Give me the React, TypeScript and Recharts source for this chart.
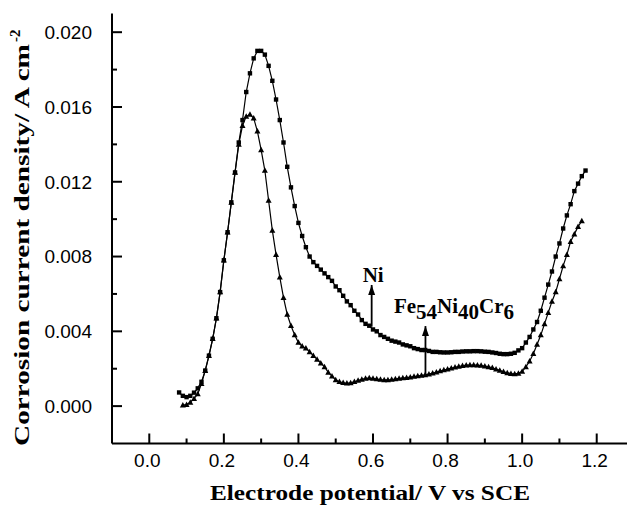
import React from 'react';
import { LineChart, Line, XAxis, YAxis, ReferenceLine, ReferenceDot } from 'recharts';

// Electrode potential (V vs SCE)
const potentials = [
  0.08, 0.09, 0.10, 0.11, 0.12, 0.13, 0.14, 0.15, 0.16, 0.17,
  0.18, 0.19, 0.20, 0.21, 0.22, 0.23, 0.24, 0.25, 0.26, 0.27,
  0.28, 0.29, 0.30, 0.31, 0.32, 0.33, 0.34, 0.35, 0.36, 0.37,
  0.38, 0.39, 0.40, 0.41, 0.42, 0.43, 0.44, 0.45, 0.46, 0.47,
  0.48, 0.49, 0.50, 0.51, 0.52, 0.53, 0.54, 0.55, 0.56, 0.57,
  0.58, 0.59, 0.60, 0.61, 0.62, 0.63, 0.64, 0.65, 0.66, 0.67,
  0.68, 0.69, 0.70, 0.71, 0.72, 0.73, 0.74, 0.75, 0.76, 0.77,
  0.78, 0.79, 0.80, 0.81, 0.82, 0.83, 0.84, 0.85, 0.86, 0.87,
  0.88, 0.89, 0.90, 0.91, 0.92, 0.93, 0.94, 0.95, 0.96, 0.97,
  0.98, 0.99, 1.00, 1.01, 1.02, 1.03, 1.04, 1.05, 1.06, 1.07,
  1.08, 1.09, 1.10, 1.11, 1.12, 1.13, 1.14, 1.15, 1.16, 1.17,
];

// Ni corrosion current density (A cm-2)
const niCurrent = [
  0.00073, 0.00055, 0.00048, 0.00055, 0.00072, 0.00095, 0.0013, 0.0019, 0.0027, 0.0036,
  0.0047, 0.0061, 0.0078, 0.0093, 0.0109, 0.0125, 0.0141, 0.0153, 0.0168, 0.0178,
  0.0186, 0.0190, 0.0190, 0.0188, 0.0182, 0.0174, 0.0164, 0.0153, 0.0141, 0.0128,
  0.0117, 0.0107, 0.0098, 0.0091, 0.0085, 0.0080, 0.0077, 0.0075, 0.0073, 0.0071,
  0.0069, 0.0067, 0.0064, 0.0062, 0.0059, 0.0056, 0.0054, 0.0051, 0.0049, 0.0046,
  0.0044, 0.0043, 0.0041, 0.0040, 0.0038, 0.0037, 0.0036, 0.0035, 0.00345, 0.0034,
  0.0033, 0.00325, 0.0032, 0.0031, 0.00305, 0.0030, 0.0030, 0.00295, 0.0029, 0.0029,
  0.00288, 0.00287, 0.00287, 0.00288, 0.0029, 0.0029, 0.00292, 0.00293, 0.00293, 0.00294,
  0.00294, 0.00293, 0.00291, 0.0029, 0.00287, 0.00284, 0.0028, 0.00278, 0.00278, 0.0028,
  0.00285, 0.00298, 0.0031, 0.0034, 0.0037, 0.0041, 0.0045, 0.0051, 0.0058, 0.0065,
  0.0072, 0.0080, 0.0087, 0.0095, 0.0102, 0.0108, 0.0115, 0.0119, 0.0123, 0.0126,
];

// Fe54Ni40Cr6 corrosion current density (A cm-2)
const feCurrent = [
  null, 0.00005, 0.00008, 0.0002, 0.0004, 0.00065, 0.0012, 0.0019, 0.0027, 0.0036,
  0.0047, 0.0061, 0.0078, 0.0093, 0.0109, 0.0125, 0.0140, 0.0150, 0.0155, 0.0156,
  0.0154, 0.0147, 0.0137, 0.0126, 0.0110, 0.0094, 0.0081, 0.0069, 0.0058, 0.0049,
  0.0043, 0.0038, 0.0034, 0.0032, 0.0031, 0.0029, 0.0027, 0.0025, 0.0023, 0.0021,
  0.0018, 0.0016, 0.0014, 0.0013, 0.00125, 0.00122, 0.00124, 0.0013, 0.00137, 0.00143,
  0.00148, 0.0015, 0.00148, 0.00145, 0.00142, 0.0014, 0.0014, 0.00142, 0.00145, 0.00148,
  0.0015, 0.00152, 0.00155, 0.00158, 0.00161, 0.00164, 0.00167, 0.00171, 0.00176, 0.00182,
  0.00188, 0.00193, 0.00198, 0.00203, 0.00208, 0.00212, 0.00216, 0.00219, 0.0022, 0.0022,
  0.00219, 0.00217, 0.00214, 0.0021, 0.00205, 0.00198, 0.00191, 0.00184, 0.00178, 0.00174,
  0.00172, 0.00175, 0.00185, 0.0021, 0.0024, 0.0028, 0.0033, 0.0038, 0.0044, 0.0050,
  0.0056, 0.0061, 0.0068, 0.0075, 0.0081, 0.0088, 0.0092, 0.0096, 0.0099, null,
];

const xMajorTicks = [0, 0.2, 0.4, 0.6, 0.8, 1.0, 1.2];
const xMinorTicks = [0.1, 0.3, 0.5, 0.7, 0.9, 1.1];
const yMajorTicks = [0, 0.004, 0.008, 0.012, 0.016, 0.02];
const yMinorTicks = [0.002, 0.006, 0.01, 0.014, 0.018];

const xTitle = 'Electrode potential/ V vs SCE';
const yTitle = 'Corrosion current density/ A cm';
const yTitleSup = '-2';

// annotation anchors (data coordinates)
const niArrow = { x: 0.5964, from: 0.00425, to: 0.00648 };
const feArrow = { x: 0.7407, from: 0.00157, to: 0.00428 };

const table = potentials.map((v, k) => ({ v, ni: niCurrent[k], fe: feCurrent[k] }));

const TICK_FONT = 'Liberation Sans, Arial, Helvetica, sans-serif';
const TITLE_FONT = 'Liberation Serif, Times New Roman, Times, DejaVu Serif, serif';

const XTick = (props: any) => {
  const { x, y, payload } = props;
  const major = xMajorTicks.includes(payload.value);
  return (
    <g>
      <line x1={x} x2={x} y1={y} y2={y - (major ? 10 : 5)} stroke="#000" strokeWidth={2} />
      {major && (
        <text x={x - 2} y={y + 23} textAnchor="middle" fontFamily={TICK_FONT} fontSize={19} fill="#000">
          {payload.value.toFixed(1)}
        </text>
      )}
    </g>
  );
};

const YTick = (props: any) => {
  const { x, y, payload } = props;
  const major = yMajorTicks.includes(payload.value);
  return (
    <g>
      <line x1={x} x2={x + (major ? 10 : 5)} y1={y} y2={y} stroke="#000" strokeWidth={2} />
      {major && (
        <text x={x - 20} y={y} dy="0.36em" textAnchor="end" fontFamily={TICK_FONT} fontSize={19} fill="#000">
          {payload.value.toFixed(3)}
        </text>
      )}
    </g>
  );
};

const XTitle = (props: any) => {
  const vb = props.viewBox || { x: 112, y: 443.5, width: 522, height: 61.5 };
  return (
    <text
      x={vb.x + 98}
      y={vb.y + 56}
      textLength={320}
      lengthAdjust="spacingAndGlyphs"
      style={{ fontFamily: TITLE_FONT }}
      fontWeight="bold"
      fontSize={22}
      fill="#000"
    >
      {xTitle}
    </text>
  );
};

const YTitle = () => {
  const bx = 29;
  const by = 446;
  return (
    <g>
      <text
        x={bx}
        y={by}
        transform={`rotate(-90, ${bx}, ${by})`}
        textLength={402}
        lengthAdjust="spacingAndGlyphs"
        style={{ fontFamily: TITLE_FONT }}
        fontWeight="bold"
        fontSize={22}
        fill="#000"
      >
        {yTitle}
      </text>
      <text
        x={bx - 9}
        y={42}
        transform={`rotate(-90, ${bx - 9}, 42)`}
        style={{ fontFamily: TITLE_FONT }}
        fontWeight="bold"
        fontSize={15}
        fill="#000"
      >
        {yTitleSup}
      </text>
    </g>
  );
};

const SquareDot = (props: any) => {
  const { cx, cy, index } = props;
  if (cx == null || cy == null || props.value == null) return <g key={`s${index}`} />;
  return <rect key={`s${index}`} x={cx - 2.2} y={cy - 2.2} width={4.4} height={4.4} fill="#000" />;
};

const TriangleDot = (props: any) => {
  const { cx, cy, index } = props;
  if (cx == null || cy == null || props.value == null) return <g key={`t${index}`} />;
  return (
    <polygon
      key={`t${index}`}
      points={`${cx},${cy - 3.2} ${cx - 3},${cy + 2.3} ${cx + 3},${cy + 2.3}`}
      fill="#000"
    />
  );
};

const ArrowHead = (props: any) => {
  const { cx, cy } = props;
  return <polygon points={`${cx},${cy} ${cx - 3.5},${cy + 10} ${cx + 3.5},${cy + 10}`} fill="#000" />;
};

const NiText = (props: any) => {
  const { cx, cy } = props;
  return (
    <text x={cx + 1.5} y={cy - 3} textAnchor="middle" style={{ fontFamily: TITLE_FONT }} fontWeight="bold" fontSize={21} fill="#000">
      Ni
    </text>
  );
};

const FeText = (props: any) => {
  const { cx, cy } = props;
  return (
    <text x={cx - 31.5} y={cy - 12.7} style={{ fontFamily: TITLE_FONT }} fontWeight="bold" fontSize={21} fill="#000">
      Fe<tspan dy={6}>54</tspan>
      <tspan dy={-6}>Ni</tspan>
      <tspan dy={6}>40</tspan>
      <tspan dy={-6}>Cr</tspan>
      <tspan dy={6}>6</tspan>
    </text>
  );
};

export default function App() {
  return (
    <div
      style={{
        position: 'fixed',
        left: 0,
        top: 0,
        width: 627,
        height: 505,
        overflow: 'hidden',
        background: '#fff',
      }}
    >
      <LineChart width={634} height={505} data={table} margin={{ top: 13.5, right: 0, bottom: 0, left: 0 }}>
        <XAxis
          dataKey="v"
          type="number"
          domain={[-0.1, 1.3]}
          ticks={[...xMajorTicks, ...xMinorTicks]}
          interval={0}
          height={61.5}
          tickSize={0}
          tickMargin={0}
          tickLine={false}
          axisLine={{ stroke: '#000', strokeWidth: 2 }}
          tick={<XTick />}
          label={<XTitle />}
        />
        <XAxis
          xAxisId="top"
          dataKey="v"
          type="number"
          orientation="top"
          domain={[-0.1, 1.3]}
          height={0}
          tick={false}
          tickLine={false}
          axisLine={{ stroke: '#000', strokeWidth: 2 }}
        />
        <YAxis
          type="number"
          domain={[-0.002, 0.021]}
          ticks={[...yMajorTicks, ...yMinorTicks]}
          interval={0}
          width={112}
          tickSize={0}
          tickMargin={0}
          tickLine={false}
          axisLine={{ stroke: '#000', strokeWidth: 2 }}
          tick={<YTick />}
          label={<YTitle />}
        />
        <Line
          dataKey="ni"
          stroke="#000"
          strokeWidth={1.2}
          type="linear"
          dot={SquareDot}
          activeDot={false}
          isAnimationActive={false}
        />
        <Line
          dataKey="fe"
          stroke="#000"
          strokeWidth={1.2}
          type="linear"
          dot={TriangleDot}
          activeDot={false}
          isAnimationActive={false}
        />
        <ReferenceLine
          segment={[{ x: niArrow.x, y: niArrow.from }, { x: niArrow.x, y: niArrow.to }]}
          stroke="#000"
          strokeWidth={1.8}
        />
        <ReferenceDot x={niArrow.x} y={niArrow.to} shape={ArrowHead} />
        <ReferenceDot x={niArrow.x} y={niArrow.to} shape={NiText} />
        <ReferenceLine
          segment={[{ x: feArrow.x, y: feArrow.from }, { x: feArrow.x, y: feArrow.to }]}
          stroke="#000"
          strokeWidth={1.8}
        />
        <ReferenceDot x={feArrow.x} y={feArrow.to} shape={ArrowHead} />
        <ReferenceDot x={feArrow.x} y={feArrow.to} shape={FeText} />
      </LineChart>
    </div>
  );
}
